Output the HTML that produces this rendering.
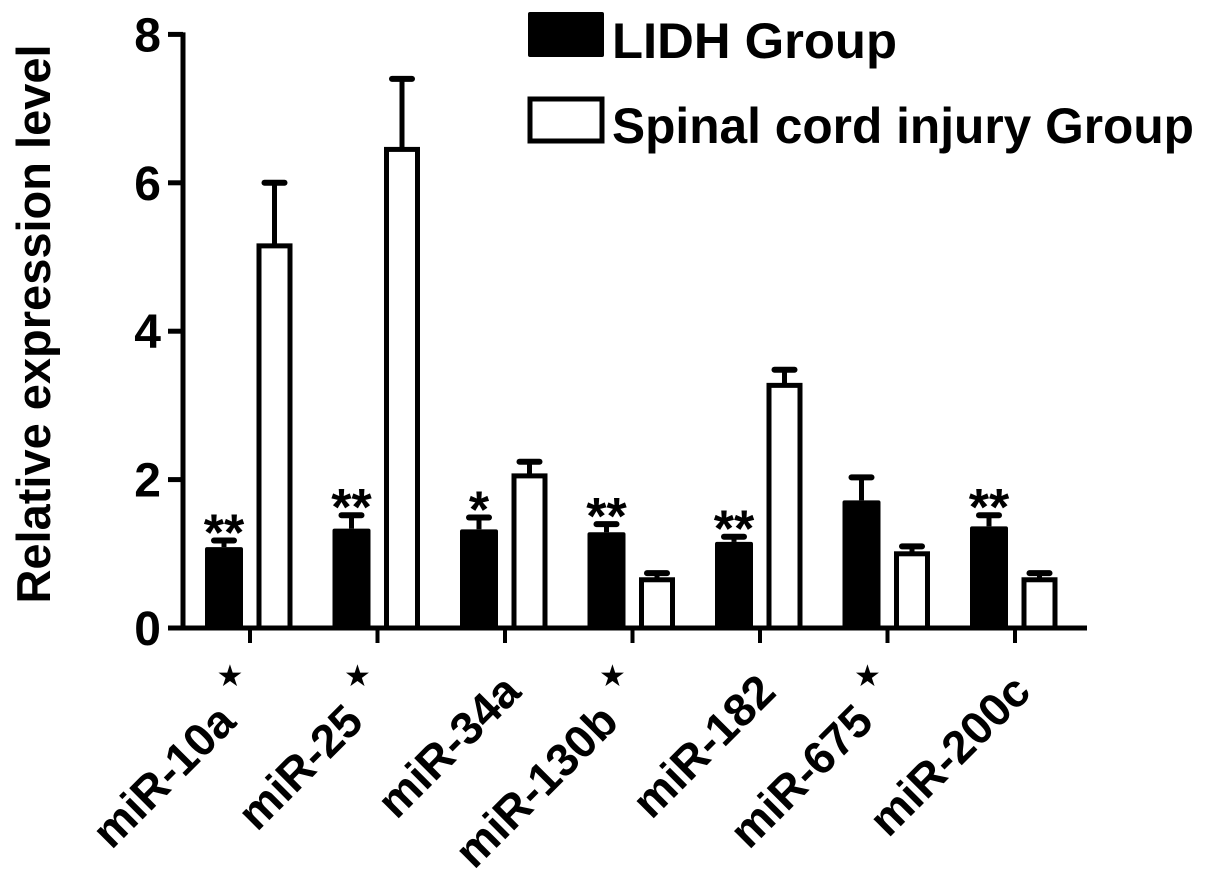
<!DOCTYPE html>
<html><head><meta charset="utf-8"><style>
body{margin:0;background:#fff;}
svg{display:block;font-family:"Liberation Sans",Arial,sans-serif;font-weight:bold;}
</style></head><body>
<svg id="chart" width="1205" height="881" viewBox="0 0 1205 881"></svg>
<script>
const categories = ["miR-10a", "miR-25", "miR-34a", "miR-130b", "miR-182", "miR-675", "miR-200c"];
const starred = [true, true, false, true, false, true, false];
const lidhValues = [1.09, 1.34, 1.33, 1.29, 1.16, 1.72, 1.37];
const lidhErrors = [0.09, 0.18, 0.16, 0.11, 0.07, 0.31, 0.15];
const sciValues = [5.15, 6.45, 2.05, 0.65, 3.27, 1.0, 0.65];
const sciErrors = [0.85, 0.95, 0.19, 0.09, 0.21, 0.1, 0.09];
const sigMarks = ["**", "**", "*", "**", "**", "", "**"];
const yTicks = [0, 2, 4, 6, 8];

const NS = "http://www.w3.org/2000/svg";
const svg = document.getElementById("chart");
const x0 = 183, yBase = 628, pxPerUnit = 74.2, firstTick = 250, step = 127.5;
const y = v => yBase - v * pxPerUnit;
const xc = i => firstTick + i * step;
function el(tag, attrs, parent) {
  const e = document.createElementNS(NS, tag);
  for (const k in attrs) e.setAttribute(k, attrs[k]);
  (parent || svg).appendChild(e);
  return e;
}
const yAxis = el("line", {x1: x0, y1: y(8) - 2, x2: x0, y2: yBase + 2, stroke: "#000", "stroke-width": 5});


const xAxis = el("line", {x1: x0 - 15, y1: yBase, x2: 1087, y2: yBase, stroke: "#000", "stroke-width": 5});


yTicks.forEach(t => {
  el("line", {x1: x0 - 15, y1: y(t), x2: x0, y2: y(t), stroke: "#000", "stroke-width": 5});
  const tx = el("text", {x: 161, y: y(t) + 17, "font-size": 48, "text-anchor": "end"});
  tx.textContent = t;
  
  
});
const yt = el("text", {x: 0, y: 0, "font-size": 47, "text-anchor": "middle", transform: "translate(50,324) rotate(-90)"});
yt.textContent = "Relative expression level";



categories.forEach((c, i) => {
  const cx = xc(i);
  el("line", {x1: cx, y1: yBase, x2: cx, y2: yBase + 15, stroke: "#000", "stroke-width": 4});
  const bx = cx - 45, bw = 38;
  const eTop1 = y(lidhValues[i] + lidhErrors[i]);
  el("line", {x1: bx + bw / 2, y1: eTop1, x2: bx + bw / 2, y2: y(lidhValues[i]), stroke: "#000", "stroke-width": 5});
  el("line", {x1: bx + bw / 2 - 10, y1: eTop1, x2: bx + bw / 2 + 10, y2: eTop1, stroke: "#000", "stroke-width": 6, "stroke-linecap": "round"});
  const b1 = el("rect", {x: bx, y: y(lidhValues[i]), width: bw, height: yBase - y(lidhValues[i]), fill: "#000", rx: 2});
  
  
  const ox = cx + 9, ow = 31;
  const eTop2 = y(sciValues[i] + sciErrors[i]);
  el("line", {x1: ox + ow / 2, y1: eTop2, x2: ox + ow / 2, y2: y(sciValues[i]), stroke: "#000", "stroke-width": 5});
  el("line", {x1: ox + ow / 2 - 10, y1: eTop2, x2: ox + ow / 2 + 10, y2: eTop2, stroke: "#000", "stroke-width": 6, "stroke-linecap": "round"});
  const b2 = el("rect", {x: ox, y: y(sciValues[i]), width: ow, height: yBase - y(sciValues[i]), fill: "#fff", stroke: "#000", "stroke-width": 5});
  
  
  if (sigMarks[i]) {
    const s = el("text", {x: bx + bw / 2, y: eTop1 + 10, "font-size": 52, "text-anchor": "middle"});
    s.textContent = sigMarks[i];
    
    
  }
  const ax = starred[i] ? cx - 12 : cx + 18;
  const ay = starred[i] ? yBase + 96 : yBase + 66;
  const lab = el("text", {x: 0, y: 0, "font-size": 46, "text-anchor": "end", transform: `translate(${ax},${ay}) rotate(-45)`});
  lab.textContent = c;
  
  
  if (starred[i]) {
    const st = el("text", {x: cx - 20, y: yBase + 58, "font-size": 30, "text-anchor": "middle", "font-family": "DejaVu Sans, sans-serif"});
    st.textContent = "★";
    
    
  }
});

const lg = el("g", {});


el("rect", {x: 528, y: 12, width: 76, height: 45, fill: "#000", rx: 2}, lg);
const l1 = el("text", {x: 612, y: 58, "font-size": 50, textLength: 285, lengthAdjust: "spacingAndGlyphs"}, lg);
l1.textContent = "LIDH Group";


el("rect", {x: 530, y: 99, width: 72, height: 42, fill: "#fff", stroke: "#000", "stroke-width": 5}, lg);
const l2 = el("text", {x: 612, y: 143, "font-size": 50, textLength: 582, lengthAdjust: "spacingAndGlyphs"}, lg);
l2.textContent = "Spinal cord injury Group";


</script>
</body></html>
